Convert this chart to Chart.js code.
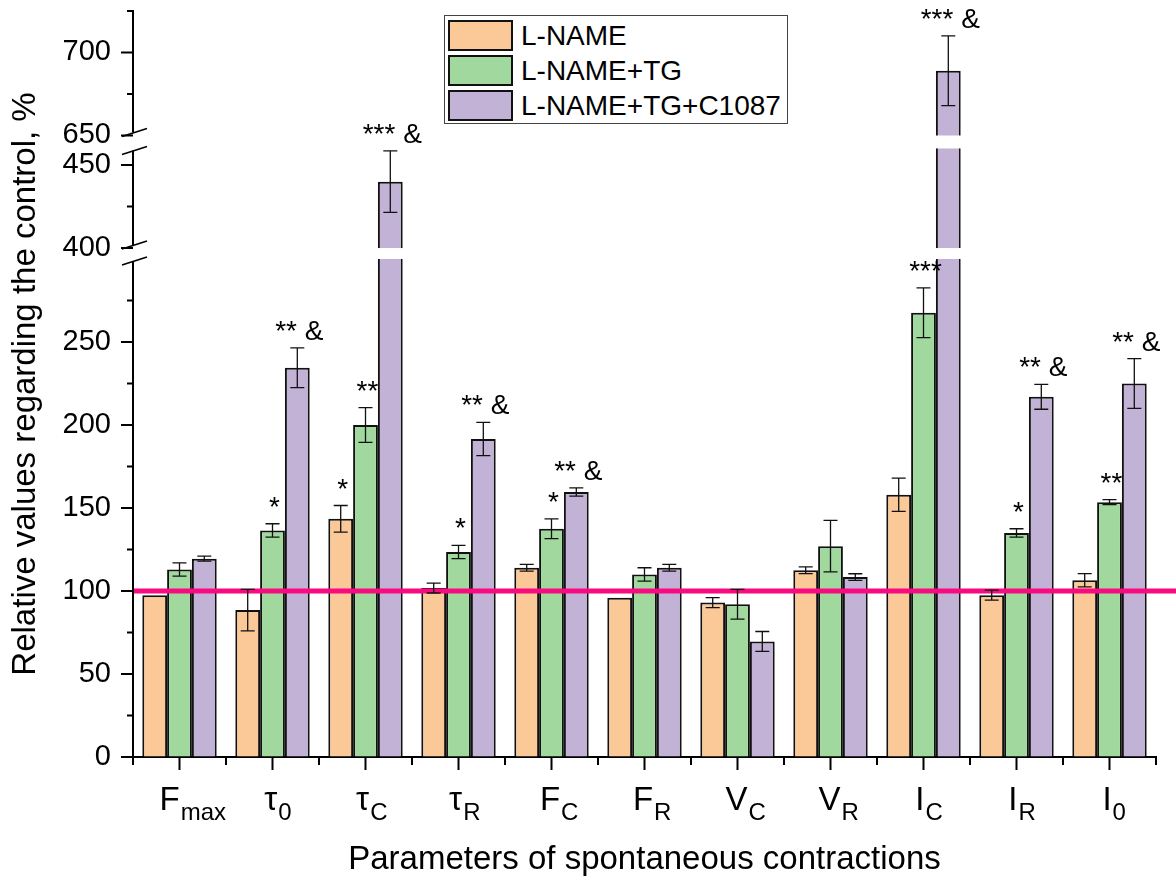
<!DOCTYPE html>
<html>
<head>
<meta charset="utf-8">
<script src="https://cdn.jsdelivr.net/npm/chart.js@4"></script>
<style>
  body { margin: 0; background: #fff; }
  #wrap { position: relative; width: 1176px; height: 883px; }
  #legend {
    position: absolute; left: 444px; top: 15px; width: 342px; height: 107px;
    border: 1px solid #444; background: #fff;
    font-family: "Liberation Sans", Arial, sans-serif; font-size: 28px; color: #000;
  }
  .row { position: absolute; left: 3px; height: 31px; display: flex; align-items: center; }
  .sw { width: 61px; height: 27px; border: 2px solid #111; margin-right: 8px; }
</style>
</head>
<body>
<div id="wrap">
  <canvas id="chart" width="1176" height="883"></canvas>
  <div id="legend"></div>
</div>
<script>
// ---- data ----
const labelBase = ['F', 'τ', 'τ', 'τ', 'F', 'F', 'V', 'V', 'I', 'I', 'I'];
const labelSub = ['max', '0', 'C', 'R', 'C', 'R', 'C', 'R', 'C', 'R', '0'];
const seriesNames = ['L-NAME', 'L-NAME+TG', 'L-NAME+TG+C1087'];
const seriesColors = ['#fbc898', '#a0d89e', '#c2b2d6'];

const lname       = [97.5, 88.5, 143.5, 101.8, 114, 96, 93, 112.5, 158, 97.5, 106.5];
const lnameErr    = [0, 12.5, 8, 3, 2, 0, 3, 2, 10, 3, 4];
const lnameTg     = [113, 136.5, 200, 123.5, 137.5, 110, 92, 127, 267.6, 135, 153.5];
const lnameTgErr  = [4, 4, 10.5, 4, 6, 4, 9, 15.5, 15, 2.5, 1.5];
const lnameTgC    = [119.5, 234.5, 440, 191.6, 159.6, 114, 69.6, 108.4, 689, 217, 225];
const lnameTgCErr = [1.5, 12, 18.5, 10, 2.5, 2, 6, 2, 21, 7.5, 15];

const marksA = ['', '', '*', '', '', '', '', '', '', '', ''];
const marksB = ['', '*', '**', '*', '*', '', '', '', '***', '*', '**'];
const marksC = ['', '** &', '*** &', '** &', '** &', '', '', '', '*** &', '** &', '** &'];

const majorTicks = [0, 50, 100, 150, 200, 250, 400, 450, 650, 700];
const minorTicks = [25, 75, 125, 175, 225, 275, 425, 675, 725];
const controlLevel = 100;

// broken axis: segments [0,300], [400,460], [650,725]
const segments = [[0, 300], [400, 460], [650, 725]];
const gaps = [6.6, 7.8];
const segStart = [0];
for (let i = 1; i < segments.length; i++) {
  segStart.push(segStart[i - 1] + segments[i - 1][1] - segments[i - 1][0] + gaps[i - 1]);
}
function toD(v) {
  for (let i = segments.length - 1; i >= 0; i--) {
    if (v >= segments[i][0] || i === 0) return segStart[i] + v - segments[i][0];
  }
}
function fromD(d) {
  for (let i = segments.length - 1; i >= 0; i--) {
    if (d >= segStart[i] - 0.01 || i === 0) return segments[i][0] + d - segStart[i];
  }
}

const FONT = '"Liberation Sans", Arial, sans-serif';
const values = [lname, lnameTg, lnameTgC];
const errors = [lnameErr, lnameTgErr, lnameTgCErr];
const marks = [marksA, marksB, marksC];

// ---- legend ----
const legend = document.getElementById('legend');
seriesNames.forEach((name, i) => {
  const row = document.createElement('div');
  row.className = 'row';
  row.style.top = (4 + i * 35) + 'px';
  row.innerHTML = '<div class="sw" style="background:' + seriesColors[i] + '"></div><span>' + name + '</span>';
  legend.appendChild(row);
});

// ---- decorations: error bars, marks, control line, axis breaks, ticks ----
const decor = {
  id: 'decor',
  afterDatasetsDraw(chart) {
    const ctx = chart.ctx;
    const y = chart.scales.y;
    const x = chart.scales.x;
    const area = chart.chartArea;
    ctx.save();

    // control line
    const yc = y.getPixelForValue(toD(controlLevel));
    ctx.strokeStyle = '#f80a80';
    ctx.lineWidth = 5;
    ctx.beginPath();
    ctx.moveTo(area.left + 1, yc);
    ctx.lineTo(chart.width, yc);
    ctx.stroke();

    // error bars
    ctx.strokeStyle = '#111';
    ctx.lineWidth = 1.3;
    values.forEach((vals, di) => {
      const meta = chart.getDatasetMeta(di);
      meta.data.forEach((bar, j) => {
        const e = errors[di][j];
        if (!e) return;
        const y1 = y.getPixelForValue(toD(vals[j] + e));
        const y2 = y.getPixelForValue(toD(vals[j] - e));
        ctx.beginPath();
        ctx.moveTo(bar.x, y1); ctx.lineTo(bar.x, y2);
        ctx.moveTo(bar.x - 7, y1); ctx.lineTo(bar.x + 7, y1);
        ctx.moveTo(bar.x - 7, y2); ctx.lineTo(bar.x + 7, y2);
        ctx.stroke();
      });
    });

    // significance marks
    ctx.fillStyle = '#000';
    ctx.font = '28px ' + FONT;
    ctx.textAlign = 'center';
    ctx.textBaseline = 'alphabetic';
    values.forEach((vals, di) => {
      const meta = chart.getDatasetMeta(di);
      meta.data.forEach((bar, j) => {
        const m = marks[di][j];
        if (!m) return;
        const top = y.getPixelForValue(toD(vals[j] + errors[di][j]));
        ctx.fillText(m, bar.x + 2, top - 8);
      });
    });

    // white breaks through tall bars
    ctx.fillStyle = '#fff';
    for (let g = 0; g < gaps.length; g++) {
      const lo = segments[g][1], hi = segments[g + 1][0];
      const pLo = y.getPixelForValue(toD(lo));
      const pHi = y.getPixelForValue(toD(hi));
      values.forEach((vals, di) => {
        const meta = chart.getDatasetMeta(di);
        meta.data.forEach((bar, j) => {
          if (vals[j] > lo) {
            ctx.fillRect(bar.x - bar.width / 2 - 5, pHi, bar.width + 10, pLo - pHi);
          }
        });
      });
      // gap in the axis line
      ctx.fillRect(area.left - 4, pHi - 3, 8, pLo - pHi + 5);
    }

    // y ticks
    ctx.strokeStyle = '#000';
    ctx.lineWidth = 2;
    ctx.beginPath();
    majorTicks.forEach(v => {
      const p = y.getPixelForValue(toD(v));
      ctx.moveTo(area.left - 12, p); ctx.lineTo(area.left, p);
    });
    minorTicks.forEach(v => {
      const p = y.getPixelForValue(toD(v));
      ctx.moveTo(area.left - 6, p); ctx.lineTo(area.left, p);
    });
    // x ticks
    labelBase.forEach((_, i) => {
      const px = x.getPixelForValue(i);
      ctx.moveTo(px, area.bottom); ctx.lineTo(px, area.bottom + 13);
      const half = (x.getPixelForValue(1) - x.getPixelForValue(0)) / 2;
      ctx.moveTo(px - half, area.bottom); ctx.lineTo(px - half, area.bottom + 8);
      if (i === labelBase.length - 1) {
        ctx.moveTo(px + half, area.bottom); ctx.lineTo(px + half, area.bottom + 8);
      }
    });
    ctx.stroke();

    // break marks on the axis
    ctx.lineWidth = 1.6;
    ctx.beginPath();
    for (let g = 0; g < gaps.length; g++) {
      const pLo = y.getPixelForValue(toD(segments[g][1]));
      const pHi = y.getPixelForValue(toD(segments[g + 1][0]));
      [pHi - 3, pLo + 2].forEach(p => {
        ctx.moveTo(area.left - 11, p + 4);
        ctx.lineTo(area.left + 14, p - 4);
      });
    }
    ctx.stroke();

    // category labels with subscripts
    ctx.fillStyle = '#000';
    ctx.textAlign = 'left';
    ctx.textBaseline = 'alphabetic';
    labelBase.forEach((b, i) => {
      const px = x.getPixelForValue(i);
      ctx.font = '33px ' + FONT;
      const wb = ctx.measureText(b).width;
      ctx.font = '24px ' + FONT;
      const ws = ctx.measureText(labelSub[i]).width;
      const w = wb + ws + 1;
      const x0 = px - 0.3 * w;
      ctx.font = '33px ' + FONT;
      ctx.fillText(b, x0, 810);
      ctx.font = '24px ' + FONT;
      ctx.fillText(labelSub[i], x0 + wb + 1, 820);
    });
    ctx.restore();
  }
};

new Chart(document.getElementById('chart'), {
  type: 'bar',
  data: {
    labels: labelBase.map((b, i) => b + labelSub[i]),
    datasets: seriesNames.map((name, i) => ({
      label: name,
      data: values[i].map(toD),
      backgroundColor: seriesColors[i],
      borderColor: '#111',
      borderWidth: 2,
      categoryPercentage: 0.8,
      barPercentage: 1.0
    }))
  },
  options: {
    responsive: false,
    animation: false,
    devicePixelRatio: 1,
    layout: { padding: { top: 11, right: 20, left: 0, bottom: 0 } },
    plugins: { legend: { display: false }, tooltip: { enabled: false } },
    scales: {
      x: {
        type: 'category',
        offset: true,
        grid: { display: true, drawOnChartArea: false, drawTicks: false },
        border: { display: true, color: '#000', width: 2 },
        ticks: { display: false },
        title: {
          display: true,
          text: 'Parameters of spontaneous contractions',
          color: '#000',
          font: { family: FONT, size: 33 },
          padding: { top: 0, bottom: 3 }
        },
        afterFit: s => { s.height = 126; s.paddingLeft = 0; s.paddingRight = 0; }
      },
      y: {
        type: 'linear',
        min: 0,
        max: toD(725),
        grid: { display: true, drawOnChartArea: false, drawTicks: false },
        border: { display: true, color: '#000', width: 2 },
        afterBuildTicks: s => { s.ticks = majorTicks.map(v => ({ value: toD(v) })); },
        ticks: {
          autoSkip: false,
          padding: 22,
          color: '#000',
          font: { family: FONT, size: 29 },
          callback: v => Math.round(fromD(v))
        },
        title: {
          display: true,
          text: 'Relative values regarding the control, %',
          color: '#000',
          font: { family: FONT, size: 33 },
          padding: { top: 6, bottom: 0 }
        },
        afterFit: s => { s.width = 133; s.paddingTop = 0; s.paddingBottom = 0; }
      }
    }
  },
  plugins: [decor]
});
</script>
</body>
</html>
